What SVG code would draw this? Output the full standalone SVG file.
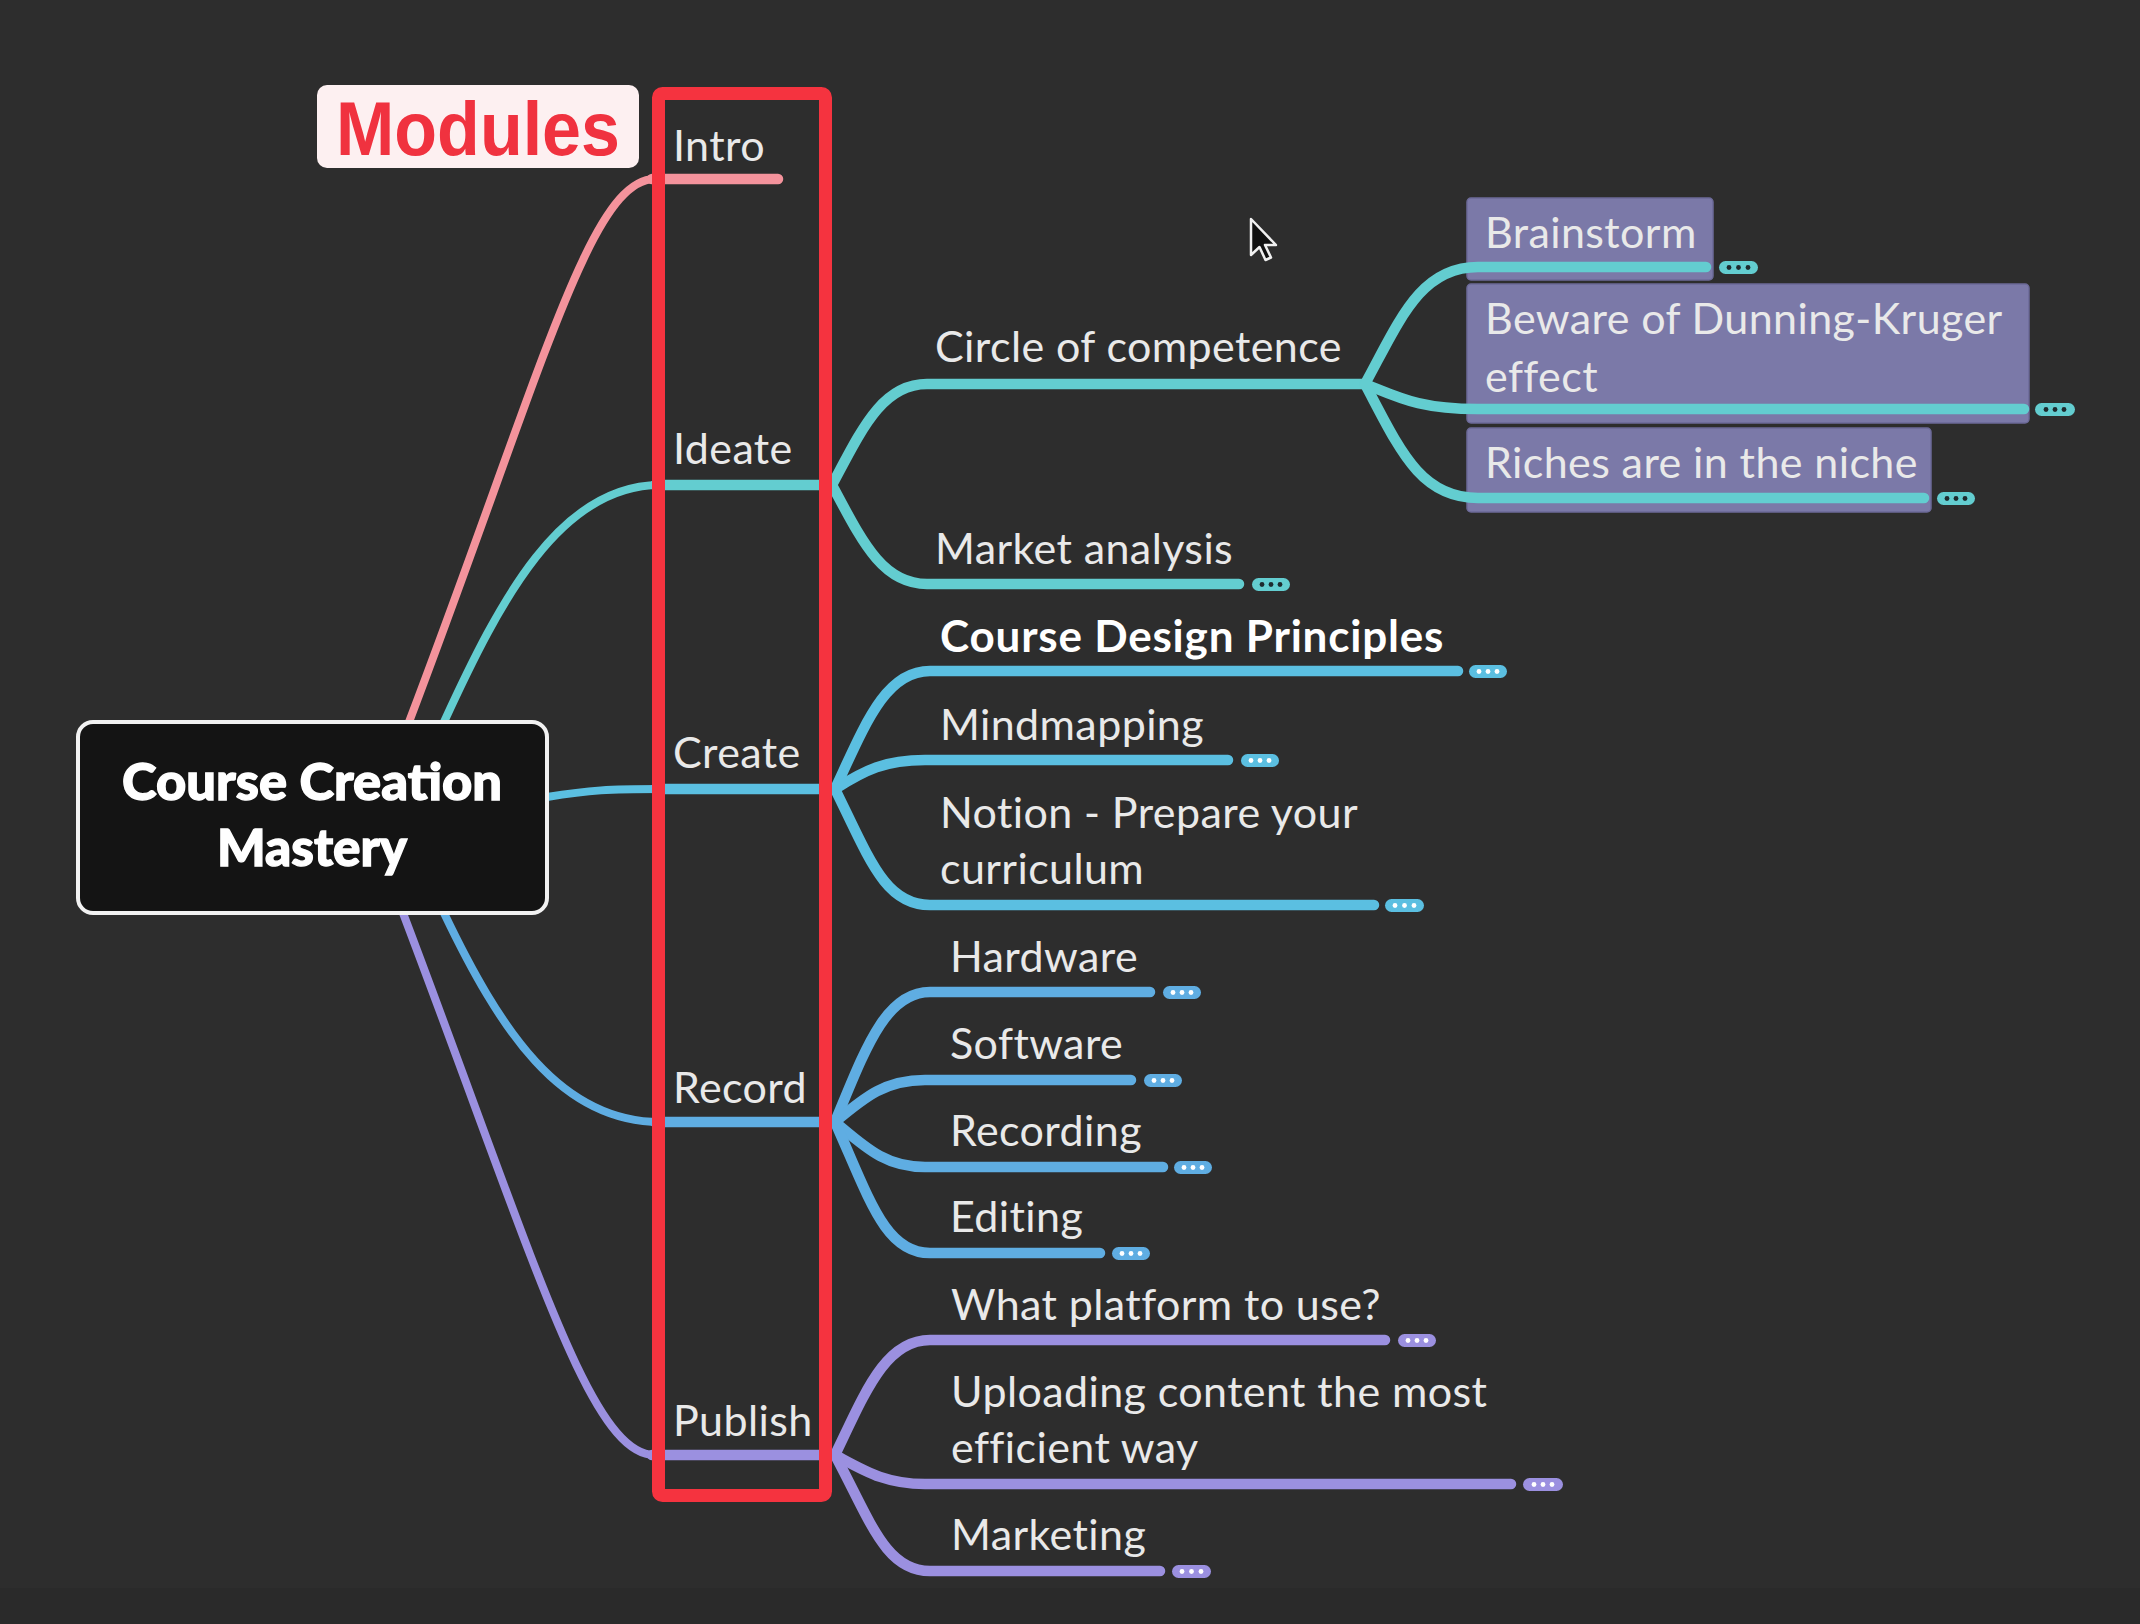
<svg xmlns="http://www.w3.org/2000/svg" width="2140" height="1624" viewBox="0 0 2140 1624">
<defs>
<style>
.lbl{font-family:Lato,"Open Sans","Liberation Sans",sans-serif;font-size:43px;letter-spacing:0.4px;fill:#e9e9e9}
.lblb{font-family:Lato,"Open Sans","Liberation Sans",sans-serif;font-size:44px;letter-spacing:0.8px;font-weight:700;fill:#ffffff}
.root{font-family:Lato,"Open Sans","Liberation Sans",sans-serif;font-size:51px;font-weight:900;fill:#ffffff;stroke:#ffffff;stroke-width:1.3}
.ln{fill:none;stroke-linecap:round;stroke-linejoin:round}
.main{stroke-width:8}
.sub{stroke-width:10.5}
.pink{stroke:#f4939c}
.teal{stroke:#63cdd0}
.cblue{stroke:#5bbfe1}
.rblue{stroke:#5fade2}
.lav{stroke:#9b90e0}
.box{fill:#7b79a8;stroke:#6c6a98;stroke-width:1.5}
.pill{stroke:none}
.dd{fill:#1e2a2e}
.wd{fill:#ffffff}
</style>
</defs>
<rect width="2140" height="1624" fill="#2d2d2d"/>
<rect y="1588" width="2140" height="36" fill="#2a2a2a"/>

<!-- purple boxes (behind lines) -->
<g id="box-brainstorm"><rect class="box" x="1467" y="198" width="246" height="82" rx="4"/></g>
<g id="box-beware"><rect class="box" x="1467" y="284" width="562" height="139" rx="4"/></g>
<g id="box-riches"><rect class="box" x="1467" y="428" width="464" height="84" rx="4"/></g>

<g id="connectors">
<!-- root to modules -->
<path class="ln main pink" d="M409,722 C542,372 590,179 655,179"/>
<path class="ln sub pink" d="M652,179 L778,179"/>
<path class="ln main teal" d="M444,722 C500,600 560,485 660,485"/>
<path class="ln sub teal" d="M655,485 L832,485"/>
<path class="ln main cblue" d="M547,797 C590,790 610,789 660,789"/>
<path class="ln sub cblue" d="M655,789 L835,789"/>
<path class="ln main rblue" d="M444,913 C500,1030 560,1122 660,1122"/>
<path class="ln sub rblue" d="M655,1122 L835,1122"/>
<path class="ln main lav" d="M403,913 C536,1264 590,1455 655,1455"/>
<path class="ln sub lav" d="M652,1455 L835,1455"/>

<!-- Ideate children -->
<path class="ln sub teal" d="M832,485 C862,429 882,384 927,384 L1365,384"/>
<path class="ln sub teal" d="M832,485 C862,541 882,584 927,584 L1239,584"/>
<!-- Circle of competence children -->
<path class="ln sub teal" d="M1365,384 C1400,320 1420,267 1478,267 L1706,267"/>
<path class="ln sub teal" d="M1365,384 C1400,398 1420,409 1478,409 L2024,409"/>
<path class="ln sub teal" d="M1365,384 C1400,450 1420,498 1478,498 L1924,498"/>

<!-- Create children -->
<path class="ln sub cblue" d="M835,789 C865,725 885,671 930,671 L1458,671"/>
<path class="ln sub cblue" d="M835,789 C865,770 885,760 925,760 L1228,760"/>
<path class="ln sub cblue" d="M835,789 C870,860 885,905 930,905 L1374,905"/>

<!-- Record children -->
<path class="ln sub rblue" d="M835,1122 C865,1050 885,992 930,992 L1150,992"/>
<path class="ln sub rblue" d="M835,1122 C865,1097 885,1080 925,1080 L1131,1080"/>
<path class="ln sub rblue" d="M835,1122 C865,1147 885,1167 925,1167 L1163,1167"/>
<path class="ln sub rblue" d="M835,1122 C870,1200 885,1253 930,1253 L1100,1253"/>

<!-- Publish children -->
<path class="ln sub lav" d="M835,1455 C865,1393 885,1340 930,1340 L1385,1340"/>
<path class="ln sub lav" d="M835,1455 C865,1471 885,1484 925,1484 L1511,1484"/>
<path class="ln sub lav" d="M835,1455 C870,1520 885,1571 930,1571 L1160,1571"/>
</g>

<!-- root -->
<g id="root">
<rect x="78" y="722" width="469" height="191" rx="15" fill="#141414" stroke="#f2f2f2" stroke-width="4"/>
<text class="root" x="312" y="800" text-anchor="middle" textLength="380" lengthAdjust="spacingAndGlyphs">Course Creation</text>
<text class="root" x="312" y="866" text-anchor="middle" textLength="190" lengthAdjust="spacingAndGlyphs">Mastery</text>
</g>

<!-- modules -->
<g id="intro"><text class="lbl" x="673" y="161">Intro</text></g>
<g id="ideate"><text class="lbl" x="673" y="464">Ideate</text></g>
<g id="create"><text class="lbl" x="673" y="768">Create</text></g>
<g id="record"><text class="lbl" x="673" y="1103">Record</text></g>
<g id="publish"><text class="lbl" x="673" y="1436">Publish</text></g>

<!-- Ideate children -->
<g id="circle"><text class="lbl" x="935" y="362">Circle of competence</text></g>
<g id="market"><text class="lbl" x="935" y="564">Market analysis</text>
<rect class="pill" x="1252" y="578" width="38" height="13" rx="6.5" fill="#63cdd0"/><circle class="dd" cx="1262" cy="584.5" r="2.4"/><circle class="dd" cx="1271" cy="584.5" r="2.4"/><circle class="dd" cx="1280" cy="584.5" r="2.4"/></g>

<g id="brainstorm"><text class="lbl" x="1485" y="248">Brainstorm</text>
<rect class="pill" x="1719" y="261" width="39" height="13" rx="6.5" fill="#63cdd0"/><circle class="dd" cx="1729" cy="267.5" r="2.4"/><circle class="dd" cx="1738.5" cy="267.5" r="2.4"/><circle class="dd" cx="1748" cy="267.5" r="2.4"/></g>
<g id="beware"><text class="lbl" x="1485" y="334">Beware of Dunning-Kruger</text><text class="lbl" x="1485" y="392">effect</text>
<rect class="pill" x="2035" y="403" width="40" height="13" rx="6.5" fill="#63cdd0"/><circle class="dd" cx="2046" cy="409.5" r="2.4"/><circle class="dd" cx="2055" cy="409.5" r="2.4"/><circle class="dd" cx="2064" cy="409.5" r="2.4"/></g>
<g id="riches"><text class="lbl" x="1485" y="478">Riches are in the niche</text>
<rect class="pill" x="1937" y="492" width="38" height="13" rx="6.5" fill="#63cdd0"/><circle class="dd" cx="1947" cy="498.5" r="2.4"/><circle class="dd" cx="1956" cy="498.5" r="2.4"/><circle class="dd" cx="1965" cy="498.5" r="2.4"/></g>

<!-- Create children -->
<g id="cdp"><text class="lblb" x="940" y="652">Course Design Principles</text>
<rect class="pill" x="1469" y="665" width="38" height="13" rx="6.5" fill="#5bbfe1"/><circle class="wd" cx="1479" cy="671.5" r="2.4"/><circle class="wd" cx="1488" cy="671.5" r="2.4"/><circle class="wd" cx="1497" cy="671.5" r="2.4"/></g>
<g id="mindmapping"><text class="lbl" x="940" y="740">Mindmapping</text>
<rect class="pill" x="1241" y="754" width="38" height="13" rx="6.5" fill="#5bbfe1"/><circle class="wd" cx="1251" cy="760.5" r="2.4"/><circle class="wd" cx="1260" cy="760.5" r="2.4"/><circle class="wd" cx="1269" cy="760.5" r="2.4"/></g>
<g id="notion"><text class="lbl" x="940" y="828">Notion - Prepare your</text><text class="lbl" x="940" y="884">curriculum</text>
<rect class="pill" x="1385" y="899" width="39" height="13" rx="6.5" fill="#5bbfe1"/><circle class="wd" cx="1395" cy="905.5" r="2.4"/><circle class="wd" cx="1404.5" cy="905.5" r="2.4"/><circle class="wd" cx="1414" cy="905.5" r="2.4"/></g>

<!-- Record children -->
<g id="hardware"><text class="lbl" x="950" y="972">Hardware</text>
<rect class="pill" x="1163" y="986" width="38" height="13" rx="6.5" fill="#5fade2"/><circle class="wd" cx="1173" cy="992.5" r="2.4"/><circle class="wd" cx="1182" cy="992.5" r="2.4"/><circle class="wd" cx="1191" cy="992.5" r="2.4"/></g>
<g id="software"><text class="lbl" x="950" y="1059">Software</text>
<rect class="pill" x="1144" y="1074" width="38" height="13" rx="6.5" fill="#5fade2"/><circle class="wd" cx="1154" cy="1080.5" r="2.4"/><circle class="wd" cx="1163" cy="1080.5" r="2.4"/><circle class="wd" cx="1172" cy="1080.5" r="2.4"/></g>
<g id="recording"><text class="lbl" x="950" y="1146">Recording</text>
<rect class="pill" x="1174" y="1161" width="38" height="13" rx="6.5" fill="#5fade2"/><circle class="wd" cx="1184" cy="1167.5" r="2.4"/><circle class="wd" cx="1193" cy="1167.5" r="2.4"/><circle class="wd" cx="1202" cy="1167.5" r="2.4"/></g>
<g id="editing"><text class="lbl" x="950" y="1232">Editing</text>
<rect class="pill" x="1112" y="1247" width="38" height="13" rx="6.5" fill="#5fade2"/><circle class="wd" cx="1122" cy="1253.5" r="2.4"/><circle class="wd" cx="1131" cy="1253.5" r="2.4"/><circle class="wd" cx="1140" cy="1253.5" r="2.4"/></g>

<!-- Publish children -->
<g id="platform"><text class="lbl" x="951" y="1320">What platform to use?</text>
<rect class="pill" x="1398" y="1334" width="38" height="13" rx="6.5" fill="#9b90e0"/><circle class="wd" cx="1408" cy="1340.5" r="2.4"/><circle class="wd" cx="1417" cy="1340.5" r="2.4"/><circle class="wd" cx="1426" cy="1340.5" r="2.4"/></g>
<g id="uploading"><text class="lbl" x="951" y="1407">Uploading content the most</text><text class="lbl" x="951" y="1463">efficient way</text>
<rect class="pill" x="1523" y="1478" width="40" height="13" rx="6.5" fill="#9b90e0"/><circle class="wd" cx="1534" cy="1484.5" r="2.4"/><circle class="wd" cx="1543" cy="1484.5" r="2.4"/><circle class="wd" cx="1552" cy="1484.5" r="2.4"/></g>
<g id="marketing"><text class="lbl" x="951" y="1550">Marketing</text>
<rect class="pill" x="1172" y="1565" width="39" height="13" rx="6.5" fill="#9b90e0"/><circle class="wd" cx="1182" cy="1571.5" r="2.4"/><circle class="wd" cx="1191.5" cy="1571.5" r="2.4"/><circle class="wd" cx="1201" cy="1571.5" r="2.4"/></g>

<!-- annotation -->
<g id="modules-frame">
<rect x="658.5" y="93.5" width="167" height="1402" rx="4" fill="none" stroke="#f5333f" stroke-width="13"/>
</g>
<g id="modules-label">
<rect x="317" y="85" width="322" height="83" rx="10" fill="#fdf0f1"/>
<text x="336" y="155" font-family="'Liberation Sans',Arial,sans-serif" font-weight="700" font-size="76" fill="#f0323f" textLength="284" lengthAdjust="spacingAndGlyphs">Modules</text>
</g>

<!-- mouse pointer -->
<path d="M1251,219 L1251,255 L1259.5,247 L1265.5,260 L1271,257.5 L1265,245 L1276,245 Z" fill="#111" stroke="#f0f0f0" stroke-width="2.5" stroke-linejoin="round"/>
</svg>
